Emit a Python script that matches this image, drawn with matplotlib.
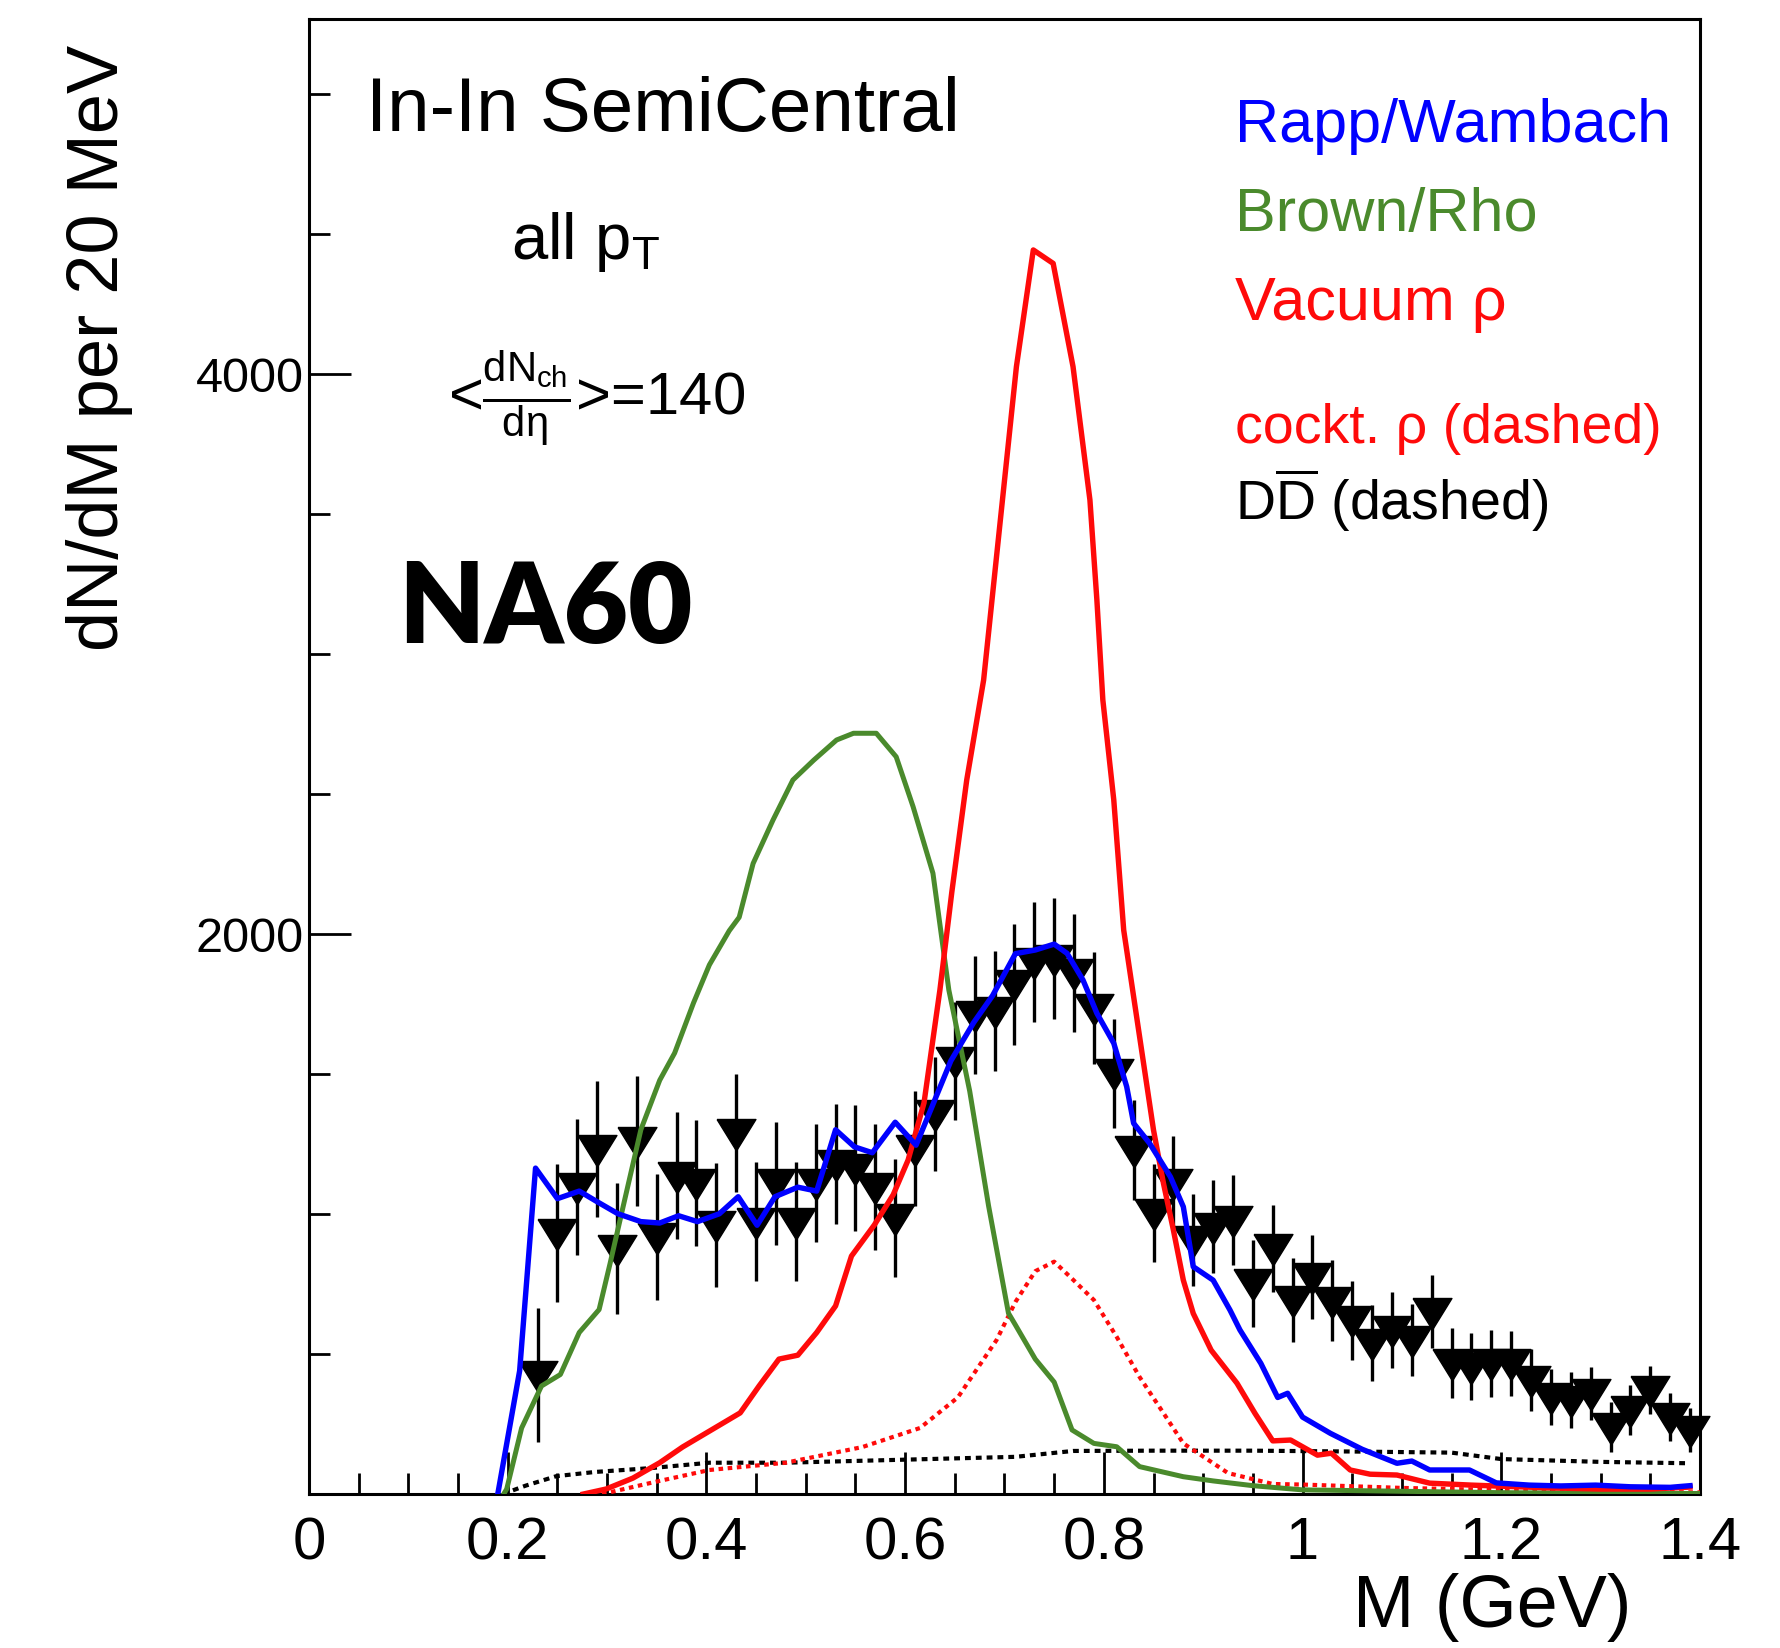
import numpy as np
import matplotlib
matplotlib.use("Agg")
import matplotlib.pyplot as plt
from matplotlib.ticker import FixedLocator, MultipleLocator

plt.rcParams['font.family'] = ['Liberation Sans', 'DejaVu Sans']
plt.rcParams['mathtext.fontset'] = 'custom'
plt.rcParams['mathtext.rm'] = 'Liberation Sans'
plt.rcParams['mathtext.it'] = 'Liberation Sans'
plt.rcParams['mathtext.bf'] = 'Liberation Sans:bold'

# NA60 data points (20 MeV bins)
data_m = [0.23, 0.25, 0.27, 0.29, 0.31, 0.33, 0.35, 0.37, 0.39, 0.41,
          0.43, 0.45, 0.47, 0.49, 0.51, 0.53, 0.55, 0.57, 0.59, 0.61,
          0.63, 0.65, 0.67, 0.69, 0.71, 0.73, 0.75, 0.77, 0.79, 0.81,
          0.83, 0.85, 0.87, 0.89, 0.91, 0.93, 0.95, 0.97, 0.99, 1.01,
          1.03, 1.05, 1.07, 1.09, 1.11, 1.13, 1.15, 1.17, 1.19, 1.21,
          1.23, 1.25, 1.27, 1.29, 1.31, 1.33, 1.35, 1.37, 1.39]
data_y = [426, 932, 1096, 1233, 877, 1261, 918, 1137, 1110, 961,
          1288, 973, 1110, 973, 1110, 1179, 1164, 1096, 987, 1233,
          1357, 1547, 1711, 1725, 1820, 1900, 1912, 1860, 1735, 1502,
          1229, 1003, 1110, 907, 955, 979, 753, 878, 693, 776,
          690, 620, 539, 586, 550, 651, 467, 455, 467, 467,
          407, 348, 336, 360, 240, 300, 371, 276, 229]
data_err = [240, 245, 243, 243, 233, 233, 225, 226, 225, 220,
            211, 212, 220, 212, 210, 215, 225, 225, 210, 205,
            205, 210, 210, 215, 215, 215, 215, 210, 200, 195,
            180, 175, 170, 165, 165, 160, 155, 155, 150, 150,
            145, 140, 135, 135, 130, 130, 125, 120, 120, 115,
            110, 100, 100, 95, 90, 90, 85, 85, 80]

# Rapp/Wambach
rw_m = [0.190, 0.212, 0.228, 0.250, 0.272, 0.291, 0.311, 0.334, 0.353, 0.372,
        0.391, 0.413, 0.432, 0.451, 0.469, 0.492, 0.511, 0.530, 0.549, 0.567,
        0.590, 0.611, 0.627, 0.646, 0.669, 0.688, 0.711, 0.731, 0.750, 0.763,
        0.779, 0.793, 0.810, 0.823, 0.830, 0.846, 0.867, 0.880, 0.890, 0.910,
        0.927, 0.937, 0.958, 0.975, 0.985, 1.000, 1.028, 1.060, 1.095, 1.110,
        1.128, 1.168, 1.195, 1.228, 1.260, 1.295, 1.330, 1.370, 1.390]
rw_y = [0, 440, 1164, 1055, 1082, 1042, 1001, 973, 968, 994,
        973, 1001, 1062, 960, 1062, 1096, 1082, 1301, 1240, 1219,
        1328, 1246, 1383, 1547, 1684, 1780, 1930, 1943, 1964, 1931,
        1836, 1717, 1610, 1455, 1324, 1253, 1133, 1026, 812, 764,
        657, 586, 467, 345, 360, 275, 217, 160, 110, 118,
        86, 86, 40, 32, 29, 32, 26, 24, 30]

# Brown/Rho
br_m = [0.196, 0.199, 0.214, 0.234, 0.253, 0.272, 0.292, 0.303, 0.318, 0.334,
        0.353, 0.368, 0.387, 0.403, 0.423, 0.433, 0.447, 0.467, 0.487, 0.508,
        0.531, 0.548, 0.571, 0.591, 0.608, 0.628, 0.644, 0.665, 0.684, 0.704,
        0.711, 0.731, 0.750, 0.768, 0.790, 0.813, 0.836, 0.880, 0.910, 0.950,
        1.000, 1.100, 1.200, 1.300, 1.400]
br_y = [0, 18, 236, 386, 427, 577, 659, 823, 1055, 1301,
        1478, 1575, 1754, 1890, 2012, 2060, 2252, 2407, 2550, 2621,
        2693, 2717, 2717, 2633, 2455, 2217, 1800, 1439, 1029, 646,
        604, 482, 400, 229, 181, 169, 98, 62, 47, 30,
        15, 10, 5, 3, 2]

# Vacuum rho
vac_m = [0.276, 0.299, 0.326, 0.353, 0.376, 0.395, 0.415, 0.434, 0.453, 0.473,
         0.492, 0.511, 0.530, 0.546, 0.569, 0.588, 0.603, 0.619, 0.635, 0.647,
         0.662, 0.679, 0.695, 0.712, 0.729, 0.749, 0.769, 0.786, 0.793, 0.799,
         0.810, 0.820, 0.830, 0.840, 0.850, 0.860, 0.870, 0.880, 0.890, 0.908,
         0.934, 0.952, 0.970, 0.988, 1.015, 1.029, 1.048, 1.068, 1.095, 1.128,
         1.170, 1.250, 1.300, 1.350, 1.390]
vac_y = [0, 18, 57, 112, 168, 208, 250, 290, 386, 482,
         496, 577, 672, 850, 961, 1069, 1193, 1397, 1800, 2150,
         2550, 2907, 3450, 4026, 4443, 4395, 4026, 3550, 3193, 2836,
         2479, 2014, 1776, 1538, 1300, 1110, 943, 764, 645, 514,
         396, 289, 190, 193, 139, 146, 86, 71, 68, 39,
         32, 22, 18, 18, 25]

# cocktail rho
ck_m = [0.295, 0.349, 0.403, 0.480, 0.557, 0.615, 0.653, 0.692, 0.711, 0.731,
        0.750, 0.766, 0.790, 0.813, 0.836, 0.858, 0.880, 0.925, 0.970, 1.000,
        1.100, 1.200, 1.300, 1.400]
ck_y = [0, 44, 86, 112, 168, 236, 345, 550, 686, 796,
        830, 776, 693, 561, 418, 300, 181, 75, 36, 34,
        22, 14, 9, 6]

# open charm DD
dd_m = [0.195, 0.218, 0.249, 0.288, 0.345, 0.403, 0.480, 0.557, 0.634, 0.711,
        0.769, 0.850, 0.950, 1.050, 1.150, 1.200, 1.300, 1.390]
dd_y = [0, 30, 64, 79, 93, 112, 112, 119, 126, 133,
        154, 155, 155, 152, 148, 125, 115, 110]

blue = '#0000ff'
green = '#4a8a2c'
red = '#ff0a0a'

fig = plt.figure(figsize=(17.81, 16.48), dpi=100)
ax = fig.add_axes([0.1735, 0.0934, 0.7810, 0.8951])

tri = [(-1.0, 0.72), (1.0, 0.72), (0.0, -0.9), (-1.0, 0.72)]

ax.errorbar(data_m, data_y, yerr=data_err, fmt='none', ecolor='black',
            elinewidth=2.4, zorder=2)
ax.plot(data_m, data_y, linestyle='none', marker=tri, ms=28, color='black',
        zorder=3, clip_on=False)

ax.plot(dd_m, dd_y, color='black', lw=3.0, linestyle=(0, (1.4, 1.2)), zorder=4)
ax.plot(ck_m, ck_y, color=red, lw=3.0, linestyle=(0, (1.1, 1.1)), zorder=4)
ax.plot(br_m, br_y, color=green, lw=3.6, zorder=5)
ax.plot(vac_m, vac_y, color=red, lw=3.9, zorder=6)
ax.plot(rw_m, rw_y, color=blue, lw=3.9, zorder=7)

ax.set_xlim(0, 1.4)
ax.set_ylim(0, 5268)

ax.xaxis.set_minor_locator(MultipleLocator(0.05))
ax.set_xticks([0, 0.2, 0.4, 0.6, 0.8, 1.0, 1.2, 1.4])
ax.set_xticklabels(['0', '0.2', '0.4', '0.6', '0.8', '1', '1.2', '1.4'])
ax.yaxis.set_major_locator(FixedLocator([0, 2000, 4000]))
ax.yaxis.set_minor_locator(MultipleLocator(500))
ax.set_yticklabels(['', '2000', '4000'])

ax.tick_params(which='both', direction='in', top=False, right=False, width=2)
ax.tick_params(which='major', length=30)
ax.tick_params(which='minor', length=15)
ax.tick_params(axis='x', labelsize=43, pad=16)
ax.tick_params(axis='y', labelsize=35, pad=4)
for s in ax.spines.values():
    s.set_linewidth(2.2)

fig.text(0.056, 0.973, 'dN/dM per 20 MeV', rotation=90, fontsize=52,
         ha='center', va='top')
fig.text(0.9163, 0.0127, 'M (GeV)', fontsize=53, ha='right', va='baseline')

ax.text(0.041, 0.924, 'In-In SemiCentral', transform=ax.transAxes,
        fontsize=55, va='baseline')
ax.text(0.145, 0.837, r'all p$_\mathrm{T}$', transform=ax.transAxes,
        fontsize=47, va='baseline')
ax.text(0.100, 0.742, r'<$\frac{dN_{ch}}{d\eta}$>=140',
        transform=ax.transAxes, fontsize=43, va='center')
ax.text(0.064, 0.599, 'NA60', transform=ax.transAxes, fontsize=80,
        fontweight='heavy', family=['Lato', 'DejaVu Sans'], va='center')

ax.text(0.6657, 0.9166, 'Rapp/Wambach', color=blue, fontsize=44,
        transform=ax.transAxes, va='baseline')
ax.text(0.6657, 0.8563, 'Brown/Rho', color=green, fontsize=44,
        transform=ax.transAxes, va='baseline')
ax.text(0.6657, 0.7959, 'Vacuum ρ', color=red, fontsize=44,
        transform=ax.transAxes, va='baseline')
ax.text(0.6657, 0.7125, 'cockt. ρ (dashed)', color=red, fontsize=40,
        transform=ax.transAxes, va='baseline')
ax.text(0.6657, 0.6603, r'D$\overline{\mathrm{D}}$ (dashed)', color='black',
        fontsize=40, transform=ax.transAxes, va='baseline')

fig.savefig('out.png', dpi=100)
